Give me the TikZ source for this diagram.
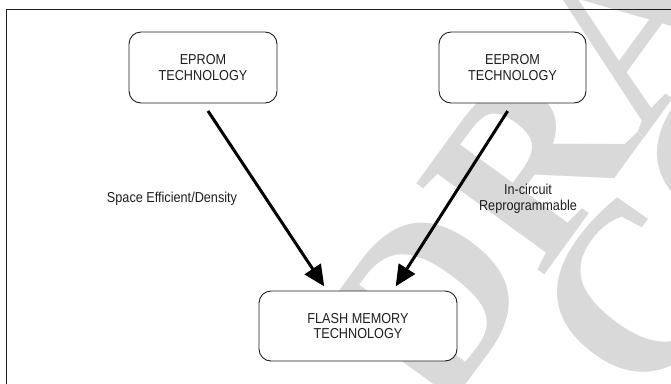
\documentclass[tikz,border=0pt]{standalone}
\usepackage{fontspec}
\setmainfont{Liberation Sans}[FakeStretch=0.88]
\newfontfamily\wmfont{Liberation Serif Bold}
\usetikzlibrary{arrows.meta}
\definecolor{wmgray}{RGB}{217,217,217}
\definecolor{inkgray}{RGB}{30,30,30}

\begin{document}
\begin{tikzpicture}[
                    x=1pt,
                    y=-1pt,
                    font=\fontsize{14.4}{15.5}\selectfont,
                    text=inkgray,
                    flow/.style={
                        -{Triangle[length=21pt,width=19pt]},
                        line width=3pt,
                        shorten <=9pt,
                        shorten >=5pt
                    }
                ]
                \tikzstyle{tech}=[
                    draw=inkgray,
                    fill=white,
                    line width=0.9pt,
                    rounded corners=12pt,
                    align=center,
                    minimum height=71pt
                ]
                \tikzstyle{watermark}=[
                    anchor=base west,
                    rotate=54,
                    inner sep=0pt,
                    text=wmgray,
                    font=\wmfont\fontsize{240}{240}\selectfont
                ]

                \path[use as bounding box, clip] (0,0) rectangle (671,383);

                % watermark behind everything
                \node[watermark] (wmdraft) at (440,420) {DRAFT};
                \node[watermark] (wmcopy) at (650,410) {COPY};

                \draw[line width=1.2pt, draw=inkgray] (6.5,9.5) rectangle (700,420);

                \node[tech, minimum width=148pt] (eprom) at (203,67.5)
                    {EPROM\\TECHNOLOGY};
                \node[tech, minimum width=147pt] (eeprom) at (512.5,67.5)
                    {EEPROM\\TECHNOLOGY};
                \node[tech, minimum width=198pt, minimum height=70pt] (flash) at (358,326)
                    {FLASH MEMORY\\TECHNOLOGY};

                \node (density) at (172,199) {Space Efficient/Density};
                \node[align=center] (reprog) at (528,199) {In-circuit\\Reprogrammable};

                \draw[flow] (eprom.south) -- ([xshift=-31pt]flash.north);
                \draw[flow] (eeprom.south) -- ([xshift=35pt]flash.north);
            \end{tikzpicture}
\end{document}
